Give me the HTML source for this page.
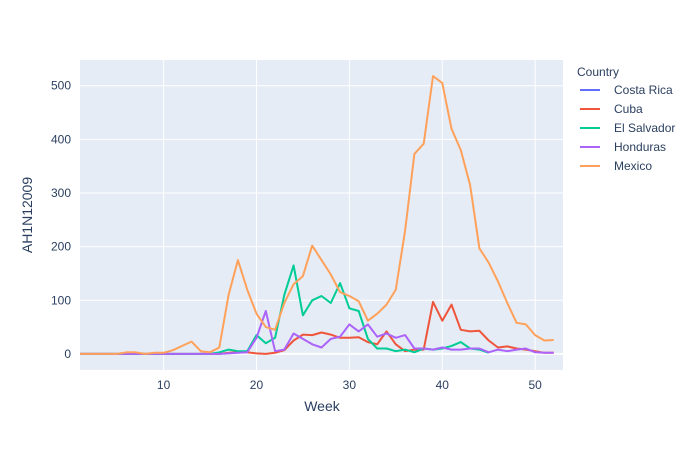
<!DOCTYPE html>
<html><head><meta charset="utf-8"><style>
body{margin:0;background:#fff;font-family:"Liberation Sans",Arial,sans-serif}
svg text{font-family:"Liberation Sans",Arial,sans-serif;fill:#2a3f5f}
</style></head><body>
<svg id="chart" width="700" height="450">
<rect x="80" y="60" width="483" height="310" fill="#e5ecf6"/>
<g id="grid"></g><g id="series"></g><g id="axes"></g>
<text x="322" y="411" font-size="14" text-anchor="middle">Week</text>
<text transform="translate(32,215) rotate(-90)" font-size="14" text-anchor="middle">AH1N12009</text>
<g id="legend">
<text x="577" y="76" font-size="12">Country</text>
</g>
</svg>
<script>
const weeks=[];for(let w=1;w<=52;w++)weeks.push(w);
const countries=["Costa Rica","Cuba","El Salvador","Honduras","Mexico"];
const colors=["#636efa","#EF553B","#00cc96","#ab63fa","#FFA15A"];
const costaRica=[null,null,null,null,null,null,null,null,null,null,null,null,null,null,null,null,null,null,null,null,null,null,null,null,null,null,null,null,null,null,null,null,null,null,null,null,null,null,null,null,null,null,null,null,null,null,null,null,null,null,null,null];
const cuba=[0,0,0,0,0,0,0,0,0,0,0,0,0,0,0,0,2,3,3,1,0,2,7,25,36,35,40,36,30,30,31,22,18,42,18,5,8,8,97,62,92,45,42,43,25,12,14,10,8,5,2,2];
const elSalvador=[0,0,0,0,0,0,0,0,0,0,0,0,0,0,0,3,8,5,5,35,20,30,110,165,72,100,108,95,132,85,80,28,10,10,5,8,3,10,8,10,15,22,10,8,2,null,null,null,null,null,null,null];
const honduras=[0,0,0,0,0,0,0,0,0,0,0,0,0,0,0,0,1,2,3,30,80,5,8,38,28,18,12,28,32,55,42,55,32,38,30,35,10,10,8,12,8,8,10,10,3,8,5,8,10,3,2,2];
const mexico=[0,0,0,0,0,3,3,0,2,2,7,15,23,5,3,12,110,175,120,75,50,45,95,130,145,202,175,148,115,108,98,62,75,92,120,230,373,392,518,505,420,380,315,197,170,135,95,58,55,35,25,26];
const seriesData=[costaRica,cuba,elSalvador,honduras,mexico];
const xTicks=[10,20,30,40,50];
const yTicks=[0,100,200,300,400,500];
const X0=80,X1=563,Y0=370,Y1=60,xmin=1,xmax=53,ymin=-30,ymax=548;
const xs=v=>X0+(v-xmin)/(xmax-xmin)*(X1-X0);
const ys=v=>Y0-(v-ymin)/(ymax-ymin)*(Y0-Y1);
const NS="http://www.w3.org/2000/svg";
const mk=(p,t,a)=>{const e=document.createElementNS(NS,t);for(const k in a)e.setAttribute(k,a[k]);p.appendChild(e);return e;};
const grid=document.getElementById('grid'),axes=document.getElementById('axes');
xTicks.forEach(t=>{
 const l=mk(grid,'line',{x1:xs(t),x2:xs(t),y1:Y1,y2:Y0,stroke:'#fff','stroke-width':1});
 
 
 const tx=mk(axes,'text',{x:xs(t),y:Y0+19,'font-size':12,'text-anchor':'middle'});tx.textContent=t;
 
 
});
yTicks.forEach(t=>{
 const l=mk(grid,'line',{x1:X0,x2:X1,y1:ys(t),y2:ys(t),stroke:'#fff','stroke-width':t===0?2:1});
 
 
 const tx=mk(axes,'text',{x:X0-9,y:ys(t)+4,'font-size':12,'text-anchor':'end'});tx.textContent=t;
 
 
});
const sg=document.getElementById('series'),lg=document.getElementById('legend');
seriesData.forEach((d,i)=>{
 let pts=[];d.forEach((v,j)=>{if(v!==null)pts.push(xs(weeks[j]).toFixed(1)+','+ys(v).toFixed(1));});
 const p=mk(sg,'polyline',{points:pts.join(' '),fill:'none',stroke:colors[i],'stroke-width':2,'stroke-linejoin':'round'});
 
 
 const y=90+i*19;
 const g=mk(lg,'g',{});
 
 
 mk(g,'line',{x1:580,x2:600,y1:y,y2:y,stroke:colors[i],'stroke-width':2});
 const t=mk(g,'text',{x:614,y:y+4,'font-size':12});t.textContent=countries[i];
});
</script>
</body></html>
